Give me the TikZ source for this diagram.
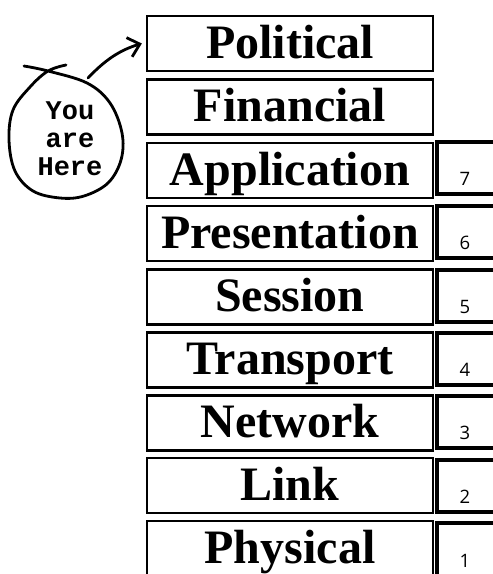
\documentclass[tikz,border=0pt]{standalone}
\usepackage{fontspec}
\setmainfont{Liberation Serif}
\newfontfamily\monof{Liberation Mono}
\newfontfamily\numf{Open Sans}
\usetikzlibrary{arrows.meta}
\begin{document}
\begin{tikzpicture}[x=1pt,y=-1pt,
  layerbox/.style={draw=black, line width=2.3pt, minimum width=286pt, minimum height=55pt, inner sep=0pt,
    text height=36pt, text depth=7pt, font=\fontsize{48}{48}\selectfont\bfseries},
  numframe/.style={draw=black, line width=4.5pt, line join=miter},
  numtext/.style={anchor=base, font=\numf\fontsize{18.5}{18.5}\selectfont, inner sep=0pt},
  hand/.style={line width=2.8pt, line cap=round, line join=round}]
\useasboundingbox (0,0) rectangle (493,574);
\fill[white] (0,0) rectangle (493,574);
\begin{scope}
\clip (0,0) rectangle (493,574);
% main layer boxes
\node[layerbox] (pol) at (290,43.5) {Political};
\node[layerbox] (fin) at (290,107) {Financial};
\node[layerbox] (app) at (290,170.5) {Application};
\node[layerbox] (pre) at (290,233.5) {Presentation};
\node[layerbox] (ses) at (290,297) {Session};
\node[layerbox] (tra) at (290,360) {Transport};
\node[layerbox] (net) at (290,423) {Network};
\node[layerbox] (lnk) at (290,485.5) {Link};
\node[layerbox] (phy) at (290,548.5) {Physical};
% number boxes (their right side runs off the picture)
\foreach \t/\b in {142/194, 206/258, 270/322, 333/385, 396/448, 460/512, 523/576}{
  \draw[numframe] (500,\t) -- (437,\t) -- (437,\b) -- (500,\b);
}
\node[numtext] (t7) at (465,185) {7};
\node[numtext] (t6) at (465,249) {6};
\node[numtext] (t5) at (465,313) {5};
\node[numtext] (t4) at (465,376) {4};
\node[numtext] (t3) at (465,439) {3};
\node[numtext] (t2) at (465,503) {2};
\node[numtext] (t1) at (465,567) {1};
% you are here loop
\node[align=center, font=\monof\bfseries\fontsize{27}{28}\selectfont, inner sep=0pt] (here) at (70,139) {You\\are\\Here};
\draw[hand] plot[smooth, tension=0.6] coordinates {(24,66) (48,71) (87,83) (110,103) (122,133) (121,160) (108,183) (84,196) (60,198) (33,191) (15,171) (9,140) (13,110) (30,87) (48,71) (66,65)};
\coordinate (astart) at (88,78);
\draw[hand, -{Straight Barb[length=11pt, width=20pt, line width=2.8pt]}] (astart) .. controls (105,60) and (120,50) .. ([xshift=-4pt]pol.west);
\end{scope}
\end{tikzpicture}
\end{document}
